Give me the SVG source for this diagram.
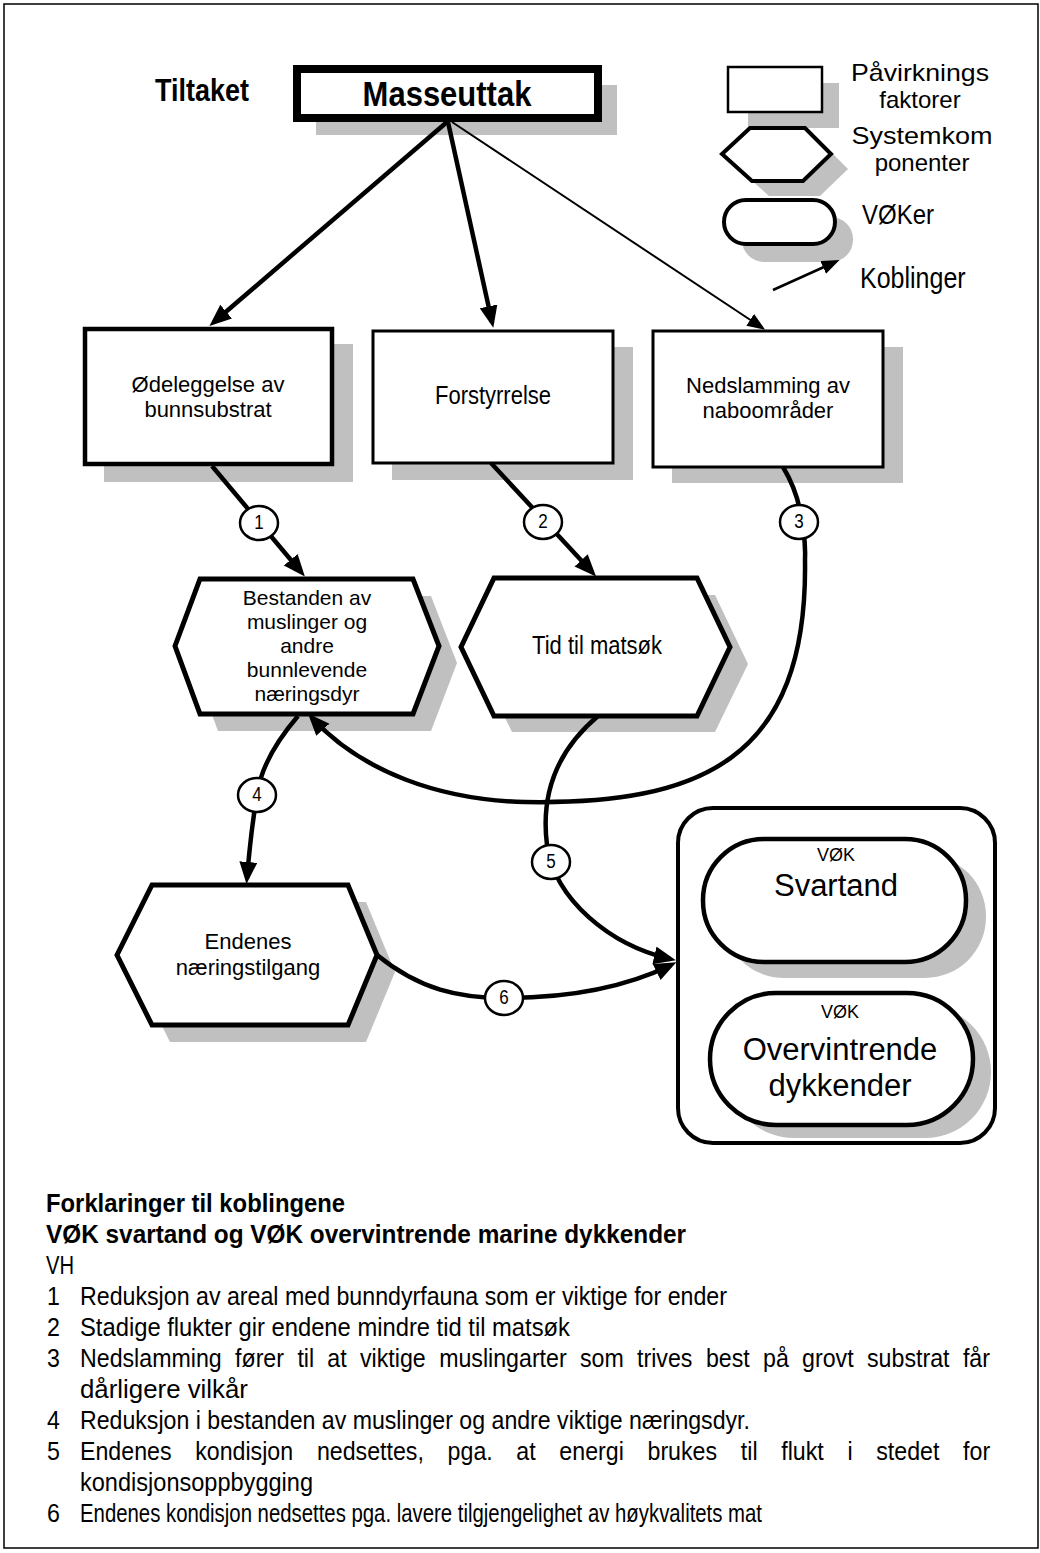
<svg xmlns="http://www.w3.org/2000/svg" width="1040" height="1553" viewBox="0 0 1040 1553">
<style>
.t{font-family:"Liberation Sans",Arial,sans-serif;fill:#000}
.b{font-weight:bold}
.m{text-anchor:middle}
.sh{fill:#c0c0c0;stroke:none}
.nd{fill:#fff;stroke:#000}
.cn{fill:none;stroke:#000;stroke-width:4.5}
.num{fill:#fff;stroke:#000;stroke-width:2.5}
.ft{font-family:"Liberation Sans",Arial,sans-serif;fill:#000;font-size:26px}
</style>
<defs>
<marker id="ah" markerUnits="userSpaceOnUse" markerWidth="24" markerHeight="20" refX="16" refY="9" orient="auto"><path d="M0,0 L22,9 L0,18 z" fill="#000"/></marker>
<marker id="ahs" markerUnits="userSpaceOnUse" markerWidth="20" markerHeight="16" refX="13" refY="7" orient="auto"><path d="M0,0 L18,7 L0,14 z" fill="#000"/></marker>
</defs>
<rect width="1040" height="1553" fill="#fff"/>
<rect x="4" y="4" width="1034" height="1544" fill="none" stroke="#000" stroke-width="1.5"/>

<g id="tiltaket"><text class="t b" transform="matrix(1 0 0 1.15 155 101)" font-size="27">Tiltaket</text></g>

<g id="masseuttak">
<rect class="sh" x="316" y="85" width="301" height="50"/>
<rect class="nd" x="297" y="69" width="301" height="49" stroke-width="8"/>
<text class="t b m" transform="matrix(1 0 0 1.15 447 106)" font-size="31">Masseuttak</text>
</g>

<g id="legend">
<rect class="sh" x="748" y="83" width="91" height="45"/>
<rect class="nd" x="728" y="67" width="94" height="45" stroke-width="2.5"/>
<polygon class="sh" points="739,169 767,143 822,143 848,169 820,196 769,196"/>
<polygon class="nd" points="722,154 750,128 805,128 831,154 803,181 752,181" stroke-width="4"/>
<rect class="sh" x="742" y="217" width="111" height="45" rx="22"/>
<rect class="nd" x="724" y="200" width="111" height="44" rx="22" stroke-width="4"/>
<path d="M773,290 L835,262" stroke="#000" stroke-width="2.5" marker-end="url(#ahs)"/>
<text class="t m" x="920" y="81" font-size="24" textLength="138" lengthAdjust="spacingAndGlyphs">Påvirknings</text>
<text class="t m" x="920" y="108" font-size="24">faktorer</text>
<text class="t m" x="922" y="144" font-size="24" textLength="141" lengthAdjust="spacingAndGlyphs">Systemkom</text>
<text class="t m" x="922" y="171" font-size="24">ponenter</text>
<text class="t" transform="matrix(1 0 0 1.15 862 224)" font-size="24">VØKer</text>
<text class="t" transform="matrix(1 0 0 1.15 860 288)" font-size="25">Koblinger</text>
</g>

<g id="box1">
<rect class="sh" x="104" y="344" width="249" height="138"/>
<rect class="nd" x="85" y="329" width="247" height="135" stroke-width="4.5"/>
<text class="t m" x="208" y="392" font-size="22">Ødeleggelse av</text>
<text class="t m" x="208" y="417" font-size="22">bunnsubstrat</text>
</g>
<g id="box2">
<rect class="sh" x="392" y="347" width="241" height="133"/>
<rect class="nd" x="373" y="331" width="240" height="132" stroke-width="3"/>
<text class="t m" transform="matrix(1 0 0 1.15 493 404)" font-size="22">Forstyrrelse</text>
</g>
<g id="box3">
<rect class="sh" x="672" y="347" width="231" height="136"/>
<rect class="nd" x="653" y="331" width="230" height="136" stroke-width="3"/>
<text class="t m" x="768" y="393" font-size="22">Nedslamming av</text>
<text class="t m" x="768" y="418" font-size="22">naboområder</text>
</g>

<g id="hex1">
<polygon class="sh" points="193,663 218,596 431,596 457,663 431,731 218,731"/>
<polygon class="nd" points="175,646 200,579 413,579 439,646 413,714 200,714" stroke-width="5"/>
<text class="t m" x="307" y="605" font-size="21">Bestanden av</text>
<text class="t m" x="307" y="629" font-size="21">muslinger og</text>
<text class="t m" x="307" y="653" font-size="21">andre</text>
<text class="t m" x="307" y="677" font-size="21">bunnlevende</text>
<text class="t m" x="307" y="701" font-size="21">næringsdyr</text>
</g>
<g id="hex2">
<polygon class="sh" points="479,664 512,595 715,595 748,664 715,732 512,732"/>
<polygon class="nd" points="461,647 494,578 697,578 730,647 697,716 494,716" stroke-width="5"/>
<text class="t m" transform="matrix(1 0 0 1.15 597 654)" font-size="22">Tid til matsøk</text>
</g>
<g id="hex3">
<polygon class="sh" points="135,972 170,902 366,902 395,972 366,1042 170,1042"/>
<polygon class="nd" points="117,955 152,885 348,885 377,955 348,1025 152,1025" stroke-width="5"/>
<text class="t m" x="248" y="949" font-size="22">Endenes</text>
<text class="t m" x="248" y="975" font-size="22">næringstilgang</text>
</g>

<g id="vok-container">
<rect class="nd" x="678" y="808" width="317" height="335" rx="35" stroke-width="4"/>
</g>
<g id="svartand">
<rect class="sh" x="723" y="855" width="263" height="123" rx="61"/>
<rect class="nd" x="703" y="839" width="263" height="123" rx="61" stroke-width="4.5"/>
<text class="t m" x="836" y="861" font-size="18">VØK</text>
<text class="t m" x="836" y="896" font-size="31">Svartand</text>
</g>
<g id="overvintrende">
<rect class="sh" x="728" y="1006" width="263" height="132" rx="66"/>
<rect class="nd" x="710" y="993" width="263" height="132" rx="66" stroke-width="4.5"/>
<text class="t m" x="840" y="1018" font-size="18">VØK</text>
<text class="t m" x="840" y="1060" font-size="31">Overvintrende</text>
<text class="t m" x="840" y="1096" font-size="31">dykkender</text>
</g>

<g id="connectors">
<path class="cn" d="M447,122 L214,322" marker-end="url(#ah)"/>
<path class="cn" d="M448,122 L492,322" marker-end="url(#ah)"/>
<path d="M452,122 L761,327" fill="none" stroke="#000" stroke-width="2" marker-end="url(#ahs)"/>
<path class="cn" d="M212,466 L301,572" marker-end="url(#ah)"/>
<path class="cn" d="M491,463 L592,572" marker-end="url(#ah)"/>
<path class="cn" d="M783,467 Q800,495 803,530 C806,545 805,555 805,560 C808,760 700,805 525,802 C440,800 362,772 312,718" marker-end="url(#ah)"/>
<path class="cn" d="M298,716 Q262,758 257,795 Q251,830 247,878" marker-end="url(#ah)"/>
<path class="cn" d="M598,716 C560,748 540,790 547,845 C555,900 610,945 670,959" marker-end="url(#ah)"/>
<path class="cn" d="M377,955 C420,990 460,998 504,998 C570,998 628,986 671,965" marker-end="url(#ah)"/>
<g id="num1"><ellipse class="num" cx="259" cy="523" rx="19" ry="17"/><text class="t m" transform="matrix(1 0 0 1.15 259 529)" font-size="17">1</text></g>
<g id="num2"><ellipse class="num" cx="543" cy="522" rx="19" ry="17"/><text class="t m" transform="matrix(1 0 0 1.15 543 528)" font-size="17">2</text></g>
<g id="num3"><ellipse class="num" cx="799" cy="522" rx="19" ry="17"/><text class="t m" transform="matrix(1 0 0 1.15 799 528)" font-size="17">3</text></g>
<g id="num4"><ellipse class="num" cx="257" cy="795" rx="19" ry="17"/><text class="t m" transform="matrix(1 0 0 1.15 257 801)" font-size="17">4</text></g>
<g id="num5"><ellipse class="num" cx="551" cy="862" rx="19" ry="17"/><text class="t m" transform="matrix(1 0 0 1.15 551 868)" font-size="17">5</text></g>
<g id="num6"><ellipse class="num" cx="504" cy="998" rx="19" ry="17"/><text class="t m" transform="matrix(1 0 0 1.15 504 1004)" font-size="17">6</text></g>
</g>

<g id="explanations" transform="scale(0.892,1)">
<text class="ft b" x="51.6" y="1212" textLength="335.2" lengthAdjust="spacingAndGlyphs">Forklaringer til koblingene</text>
<text class="ft b" x="51.6" y="1243" textLength="717.5" lengthAdjust="spacingAndGlyphs">VØK svartand og VØK overvintrende marine dykkender</text>
<text class="ft" x="51.6" y="1274" textLength="31.4" lengthAdjust="spacingAndGlyphs">VH</text>
<text class="ft" x="52.7" y="1305">1</text>
<text class="ft" x="89.7" y="1305" textLength="725.3" lengthAdjust="spacingAndGlyphs">Reduksjon av areal med bunndyrfauna som er viktige for ender</text>
<text class="ft" x="52.7" y="1336">2</text>
<text class="ft" x="89.7" y="1336" textLength="549.3" lengthAdjust="spacingAndGlyphs">Stadige flukter gir endene mindre tid til matsøk</text>
<text class="ft" x="52.7" y="1367">3</text>
<text class="ft" y="1367"><tspan x="89.7">Nedslamming</tspan><tspan x="263.5">fører</tspan><tspan x="333.4">til</tspan><tspan x="367">at</tspan><tspan x="403.6">viktige</tspan><tspan x="492.3">muslingarter</tspan><tspan x="650.2">som</tspan><tspan x="714.2">trives</tspan><tspan x="791.4">best</tspan><tspan x="855.4">på</tspan><tspan x="899.2">grovt</tspan><tspan x="972">substrat</tspan><tspan x="1079.5">får</tspan></text>
<text class="ft" x="89.7" y="1398" textLength="188.3" lengthAdjust="spacingAndGlyphs">dårligere vilkår</text>
<text class="ft" x="52.7" y="1429">4</text>
<text class="ft" x="89.7" y="1429" textLength="751.1" lengthAdjust="spacingAndGlyphs">Reduksjon i bestanden av muslinger og andre viktige næringsdyr.</text>
<text class="ft" x="52.7" y="1460">5</text>
<text class="ft" y="1460"><tspan x="89.7">Endenes</tspan><tspan x="218.8">kondisjon</tspan><tspan x="355.3">nedsettes,</tspan><tspan x="501.8">pga.</tspan><tspan x="578.9">at</tspan><tspan x="627.1">energi</tspan><tspan x="725.9">brukes</tspan><tspan x="830.5">til</tspan><tspan x="875.8">flukt</tspan><tspan x="950">i</tspan><tspan x="982.3">stedet</tspan><tspan x="1079.7">for</tspan></text>
<text class="ft" x="89.7" y="1491" textLength="261.2" lengthAdjust="spacingAndGlyphs">kondisjonsoppbygging</text>
<text class="ft" x="52.7" y="1522">6</text>
<text class="ft" x="89.7" y="1522" textLength="764.6" lengthAdjust="spacingAndGlyphs">Endenes kondisjon nedsettes pga. lavere tilgjengelighet av høykvalitets mat</text>
</g>
</svg>
